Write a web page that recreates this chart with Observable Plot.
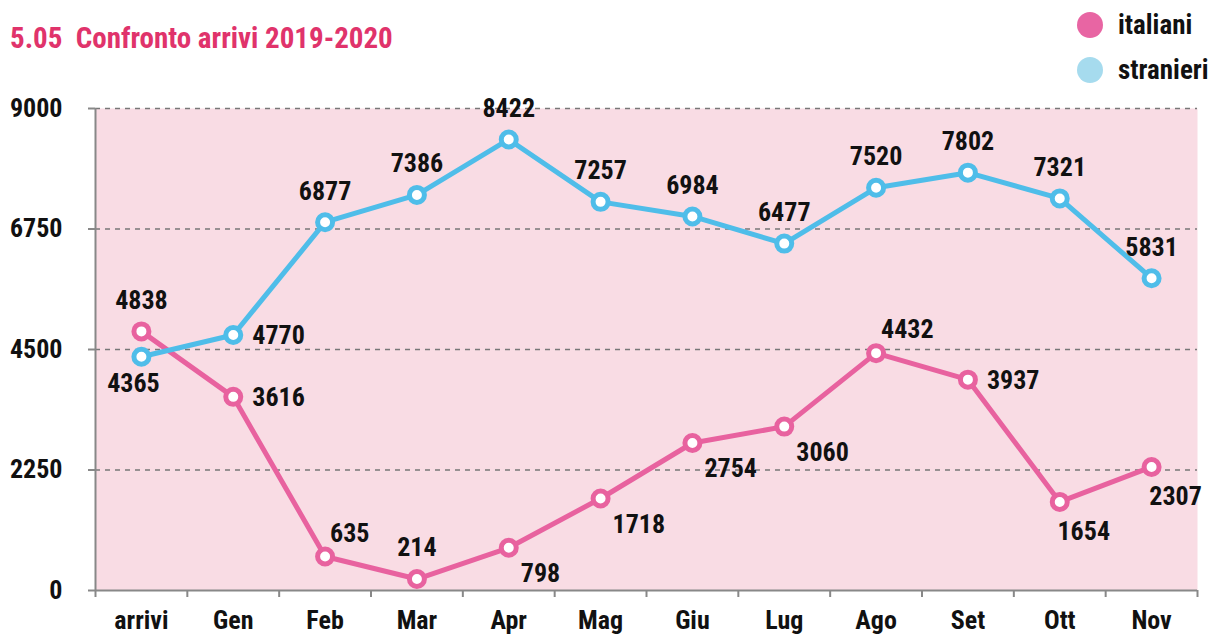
<!DOCTYPE html>
<html><head><meta charset="utf-8">
<script src="https://cdn.jsdelivr.net/npm/d3@7"></script>
<script src="https://cdn.jsdelivr.net/npm/@observablehq/plot@0.6"></script>
<style>
body{margin:0;background:#fff;width:1211px;height:635px;overflow:hidden;font-family:'Roboto Condensed','Liberation Sans Narrow','Arial Narrow','DejaVu Sans Condensed',sans-serif;font-stretch:condensed;font-weight:bold;}
#header{position:relative;height:90px;}
#title{position:absolute;left:10px;top:24px;font-size:29px;line-height:29px;color:#e0336b;white-space:pre;}
.leg{position:absolute;left:1077px;height:26px;display:flex;align-items:center;font-size:27px;color:#111;white-space:nowrap;}
.sw{width:26px;height:26px;border-radius:50%;margin-right:15px;flex:none;}
</style></head><body>
<div id="header">
  <div id="title">5.05  Confronto arrivi 2019-2020</div>
  <div class="leg" style="top:12px"><span class="sw" style="background:#e865a3"></span>italiani</div>
  <div class="leg" style="top:57px"><span class="sw" style="background:#a6dbee"></span>stranieri</div>
</div>
<div id="chart"></div>
<script>
const categories = ["arrivi","Gen","Feb","Mar","Apr","Mag","Giu","Lug","Ago","Set","Ott","Nov"];
const italiani  = [4838,3616,635,214,798,1718,2754,3060,4432,3937,1654,2307];
const stranieri = [4365,4770,6877,7386,8422,7257,6984,6477,7520,7802,7321,5831];
const yTicks = [0,2250,4500,6750,9000];
const seriesNames = ["italiani","stranieri"];
const italianiLabelPos  = ["top","right","topright","top","bottomright","bottomright","bottomright","bottomright","topright","right","bottomshift","bottomshift"];
const stranieriLabelPos = ["bottom","right","top","top","top","top","top","top","top","top","top","top"];

const FONT = "'Roboto Condensed','Liberation Sans Narrow','Arial Narrow','DejaVu Sans Condensed',sans-serif";
const PINK = "#e8629f", BLUE = "#4fbde9";

const rows = [];
categories.forEach((c, i) => {
  rows.push({i, cat: c, series: "italiani", value: italiani[i], pos: italianiLabelPos[i]});
});
categories.forEach((c, i) => {
  rows.push({i, cat: c, series: "stranieri", value: stranieri[i], pos: stranieriLabelPos[i]});
});

const placements = {
  top:        {dx: 0,  dy: -31, textAnchor: "middle"},
  bottom:     {dx: -8, dy: 27,  textAnchor: "middle"},
  right:      {dx: 19, dy: 1,   textAnchor: "start"},
  topright:   {dx: 5,  dy: -23, textAnchor: "start"},
  bottomright:{dx: 12, dy: 26,  textAnchor: "start"},
  bottomshift:{dx: 24, dy: 30,  textAnchor: "middle"}
};

const labelMarks = Object.entries(placements).map(([k, p]) =>
  Plot.text(rows.filter(d => d.pos === k), {
    x: "i", y: "value", text: d => String(d.value),
    dx: p.dx, dy: p.dy, textAnchor: p.textAnchor,
    fontSize: 26, fontWeight: "bold", fill: "#111"
  })
);

const idx = d3.range(categories.length);
const bounds = d3.range(categories.length + 1).map(i => i - 0.5);

const chart = Plot.plot({
  width: 1211,
  height: 545,
  marginTop: 18,
  marginBottom: 45,
  marginLeft: 95,
  marginRight: 14,
  style: {fontFamily: FONT, fontSize: "26px", fontWeight: "bold", background: "transparent", overflow: "visible", fontStretch: "condensed"},
  x: {type: "linear", domain: [-0.5, categories.length - 0.5], label: null},
  y: {domain: [0, 9000], label: null},
  color: {domain: seriesNames, range: [PINK, BLUE]},
  marks: [
    Plot.frame({fill: "#f9dce4", stroke: null}),
    Plot.gridY({ticks: yTicks.filter(t => t > 0), stroke: "#777", strokeOpacity: 1, strokeWidth: 1.6, strokeDasharray: "5,5"}),
    Plot.axisY({ticks: yTicks, tickSize: 7, tickPadding: 26, stroke: "#888", strokeWidth: 2, fill: "#111", label: null, tickFormat: d => String(d)}),
    Plot.axisX({ticks: bounds, tickSize: 7, stroke: "#888", strokeWidth: 2, tickFormat: () => "", label: null}),
    Plot.axisX({ticks: idx, tickSize: 0, tickPadding: 20, fill: "#111", tickFormat: i => categories[i], label: null}),
    Plot.ruleX([-0.5], {stroke: "#888", strokeWidth: 2}),
    Plot.ruleY([0], {stroke: "#888", strokeWidth: 2}),
    Plot.line(rows, {x: "i", y: "value", z: "series", stroke: "series", strokeWidth: 5}),
    Plot.dot(rows, {x: "i", y: "value", stroke: "series", r: 7.5, strokeWidth: 5, fill: "white"}),
    ...labelMarks
  ]
});
document.getElementById("chart").appendChild(chart);
</script>
</body></html>
